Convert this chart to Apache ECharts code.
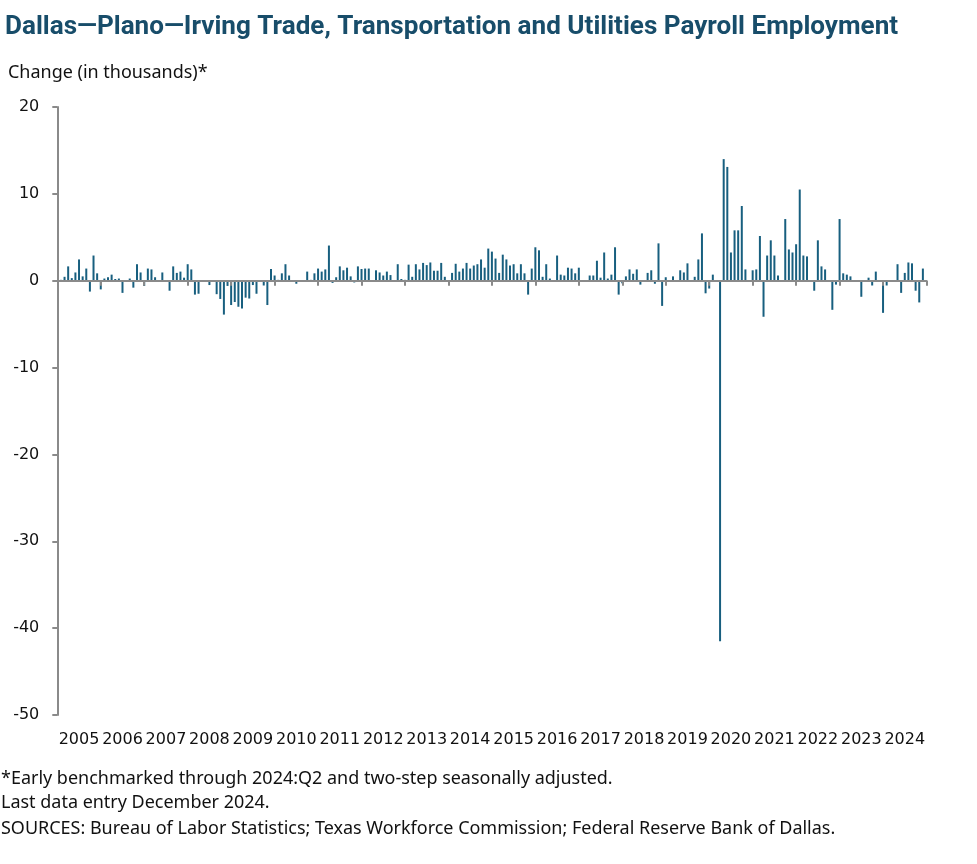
<!DOCTYPE html>
<html><head><meta charset="utf-8">
<script src="https://cdn.jsdelivr.net/npm/echarts@6/dist/echarts.min.js"></script>
<style>html,body{margin:0;padding:0;background:#fff}#c{width:977px;height:864px}</style>
</head><body><div id="c"></div>
<script>
// Year tick labels
const years = ['2005','2006','2007','2008','2009','2010','2011','2012','2013','2014',
               '2015','2016','2017','2018','2019','2020','2021','2022','2023','2024'];
// Monthly change (thousands), Jan..Dec of each year
const y2005 = [0, 0.1, 0.45, 1.65, 0.3, 0.95, 2.45, 0.5, 1.4, -1.25, 2.9, 0.85];
const y2006 = [-1.0, 0.25, 0.4, 0.7, 0.2, 0.25, -1.4, 0.05, 0.25, -0.8, 1.9, 0.95];
const y2007 = [-0.6, 1.4, 1.3, 0.4, 0.05, 0.95, 0.0, -1.15, 1.65, 0.9, 1.05, 0.35];
const y2008 = [1.9, 1.3, -1.6, -1.5, -0.05, 0, -0.5, -0.1, -1.55, -2.1, -3.9, -0.6];
const y2009 = [-2.8, -2.45, -3.0, -3.2, -1.95, -2.05, -0.5, -1.5, -0.1, -0.55, -2.8, 1.35];
const y2010 = [0.6, 0.1, 0.85, 1.9, 0.6, 0.05, -0.35, 0.05, 0.05, 1.05, 0.1, 0.85];
const y2011 = [1.4, 1.05, 1.3, 4.05, -0.25, 0.4, 1.65, 1.2, 1.5, 0.5, -0.2, 1.65];
const y2012 = [1.35, 1.4, 1.4, 0.05, 1.2, 0.95, 0.6, 1.05, 0.65, 0.05, 1.9, 0.2];
const y2013 = [0.1, 1.85, 0.45, 1.9, 1.3, 2.05, 1.8, 2.1, 1.15, 1.15, 2.05, 0.45];
const y2014 = [0, 0.9, 1.95, 1.05, 1.4, 2.05, 1.4, 1.75, 1.9, 2.45, 1.5, 3.7];
const y2015 = [3.35, 2.55, 0.9, 3.0, 2.45, 1.75, 1.9, 0.85, 1.9, 0.85, -1.6, 1.4];
const y2016 = [3.85, 3.5, 0.45, 1.9, 0.25, 0.05, 2.9, 0.7, 0.6, 1.5, 1.4, 0.85];
const y2017 = [1.5, 0.05, 0.05, 0.6, 0.6, 2.3, 0.35, 3.25, 0.25, 0.7, 3.85, -1.6];
const y2018 = [-0.3, 0.5, 1.3, 0.8, 1.3, -0.45, 0, 0.9, 1.2, -0.35, 4.3, -2.9];
const y2019 = [0.4, 0.05, 0.5, 0, 1.2, 0.95, 2.0, 0.05, 0.45, 2.45, 5.45, -1.45];
const y2020 = [-0.9, 0.7, 0, -41.5, 14.0, 13.1, 3.25, 5.8, 5.8, 8.6, 1.3, 0.05];
const y2021 = [1.2, 1.3, 5.15, -4.15, 2.9, 4.65, 2.9, 0.6, 0, 7.1, 3.6, 3.25];
const y2022 = [4.2, 10.5, 2.9, 2.8, 0, -1.15, 4.65, 1.65, 1.3, 0, -3.35, -0.45];
const y2023 = [7.1, 0.85, 0.7, 0.5, 0, 0.05, -1.85, 0, 0.35, -0.55, 1.05, 0.05];
const y2024 = [-3.7, -0.55, 0, 0, 1.9, -1.4, 0.9, 2.1, 2.0, -1.15, -2.5, 1.4];

const monthly = [].concat(y2005,y2006,y2007,y2008,y2009,y2010,y2011,y2012,y2013,y2014,
                          y2015,y2016,y2017,y2018,y2019,y2020,y2021,y2022,y2023,y2024);
const barData = monthly.map((v, i) => [i, v]);

const titleText = 'Dallas\u2014Plano\u2014Irving Trade, Transportation and Utilities Payroll Employment';
const unitText = 'Change (in thousands)*';
const note1 = '*Early benchmarked through 2024:Q2 and two-step seasonally adjusted.';
const note2 = 'Last data entry December 2024.';
const note3 = 'SOURCES: Bureau of Labor Statistics; Texas Workforce Commission; Federal Reserve Bank of Dallas.';

const cv = document.createElement('canvas').getContext('2d');
function fit(text, weight, family, target) {
  cv.font = weight + ' 100px ' + family;
  return (100 * target / cv.measureText(text).width).toFixed(2);
}
const TITLE_FAM = 'Roboto';
const BODY_FAM = '"Noto Sans"';
const bodySize = fit(note1, 'normal', BODY_FAM, 612);

function txt(text, x, y, size, weight, fam, fill) {
  return {type: 'text', x: x, y: y, style: {text: text, fill: fill,
    font: weight + ' ' + size + 'px ' + fam, verticalAlign: 'middle', textVerticalAlign: 'middle'}};
}

const chart = echarts.init(document.getElementById('c'), null, {renderer: 'canvas'});
const axisGray = '#8a8a8a';
chart.setOption({
  animation: false,
  backgroundColor: '#fff',
  grid: {left: 57.3, right: 50.5, top: 107, bottom: 149, containLabel: false},
  xAxis: [{
    type: 'value', min: 0, max: 240, interval: 12, position: 'top', z: 5,
    axisLine: {show: true, onZero: true, lineStyle: {color: axisGray, width: 2}},
    axisTick: {show: true, inside: true, length: 5, lineStyle: {color: axisGray, width: 2}},
    axisLabel: {show: false}, splitLine: {show: false}
  }, {
    type: 'category', data: years, position: 'bottom', boundaryGap: true,
    axisLine: {show: false, onZero: false}, axisTick: {show: false}, splitLine: {show: false},
    axisLabel: {fontFamily: 'DejaVu Sans', fontSize: 16, color: '#111', margin: 17, interval: 0}
  }],
  yAxis: {
    type: 'value', min: -50, max: 20, interval: 10,
    axisLine: {show: true, onZero: false, lineStyle: {color: axisGray, width: 2}},
    axisTick: {show: true, length: 5, lineStyle: {color: axisGray, width: 2}},
    axisLabel: {fontFamily: 'DejaVu Sans', fontSize: 16, color: '#111', margin: 18},
    splitLine: {show: false}
  },
  series: [{
    type: 'bar', xAxisIndex: 0, yAxisIndex: 0, data: barData, barWidth: 2,
    itemStyle: {color: '#185f7f'}
  }],
  graphic: [
    txt(titleText, 5, 27, fit(titleText, 'bold', TITLE_FAM, 893), 'bold', TITLE_FAM, '#184d6a'),
    txt(unitText, 8, 73, bodySize, 'normal', BODY_FAM, '#111'),
    txt(note1, 1, 779, bodySize, 'normal', BODY_FAM, '#111'),
    txt(note2, 1, 803, bodySize, 'normal', BODY_FAM, '#111'),
    txt(note3, 1, 829, bodySize, 'normal', BODY_FAM, '#111')
  ]
});
</script></body></html>
